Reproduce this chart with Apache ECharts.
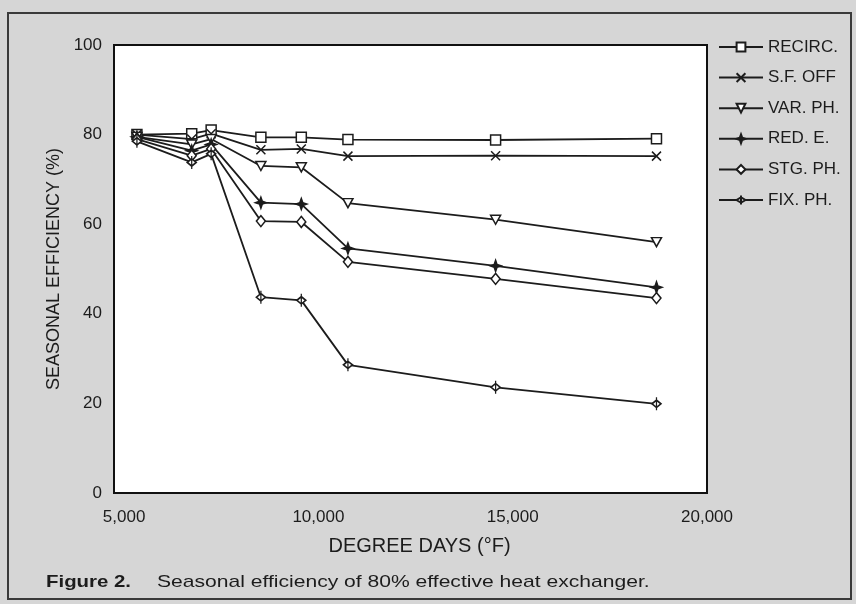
<!DOCTYPE html>
<html><head><meta charset="utf-8">
<script src="https://cdn.jsdelivr.net/npm/echarts@6/dist/echarts.min.js"></script>
<style>html,body{margin:0;padding:0;background:#d6d6d6;}#c{width:856px;height:604px;}</style>
</head><body><div id="c"></div>
<script>
// Data
const degreeDays = [5330, 6740, 7240, 8520, 9560, 10760, 14560, 18700];
const recirc = [80.0, 80.2, 81.0, 79.4, 79.4, 78.9, 78.8, 79.1];
const sfOff  = [80.0, 79.0, 80.2, 76.6, 76.8, 75.2, 75.3, 75.2];
const varPh  = [79.5, 77.8, 79.0, 73.0, 72.7, 64.7, 61.0, 56.0];
const redE   = [79.5, 76.4, 77.8, 64.8, 64.5, 54.6, 50.7, 45.9];
const stgPh  = [79.0, 75.3, 76.8, 60.7, 60.5, 51.6, 47.8, 43.5];
const fixPh  = [78.5, 73.8, 75.7, 43.7, 43.0, 28.6, 23.6, 19.9];
const seriesNames = ['RECIRC.', 'S.F. OFF', 'VAR. PH.', 'RED. E.', 'STG. PH.', 'FIX. PH.'];
const xTickValues = [5000, 10000, 15000, 20000];
const yTickValues = [0, 20, 40, 60, 80, 100];

const FONT = '"Liberation Sans", Arial, Helvetica, sans-serif';
const INK = '#1c1c1c';

const symbols = [
  {symbol: 'rect', size: 10, fill: '#fff'},
  {symbol: 'path://M0,0L10,10M10,0L0,10', size: 9, fill: '#fff'},
  {symbol: 'path://M0,0L10,0L5,9Z', size: [10, 9], fill: '#fff'},
  {symbol: 'path://M5,0L6.3,3.7L10,5L6.3,6.3L5,10L3.7,6.3L0,5L3.7,3.7Z', size: 11, fill: INK},
  {symbol: 'diamond', size: [9, 11], fill: '#fff'},
  {symbol: 'path://M5,0L5,14M5,3L9,7L5,11L1,7Z', size: [9, 13], fill: '#fff'}
];
const allValues = [recirc, sfOff, varPh, redE, stgPh, fixPh];

function pairs(vals) { return degreeDays.map((d, i) => [d, vals[i]]); }
function fmtThousands(v) { return String(v).replace(/\B(?=(\d{3})+(?!\d))/g, ','); }

const series = seriesNames.map((name, k) => ({
  name: name,
  type: 'line',
  data: pairs(allValues[k]),
  symbol: symbols[k].symbol,
  symbolSize: symbols[k].size,
  showAllSymbol: true,
  lineStyle: {color: INK, width: 1.8},
  itemStyle: {color: symbols[k].fill, borderColor: INK, borderWidth: 1.5},
  emphasis: {disabled: true},
  animation: false
}));

const chart = echarts.init(document.getElementById('c'), null, {renderer: 'canvas'});
chart.setOption({
  backgroundColor: '#d6d6d6',
  animation: false,
  textStyle: {fontFamily: FONT, color: INK},
  graphic: [
    {type: 'rect', silent: true, shape: {x: 8, y: 13, width: 843, height: 586},
     style: {fill: null, stroke: '#3a3a3a', lineWidth: 2}},
    {type: 'text', x: 46, y: 574, scaleX: 1.2, silent: true,
     style: {text: 'Figure 2.', font: 'bold 17px ' + FONT, fill: INK}},
    {type: 'text', x: 157, y: 574, scaleX: 1.24, silent: true,
     style: {text: 'Seasonal efficiency of 80% effective heat exchanger.', font: '17px ' + FONT, fill: INK}}
  ],
  grid: {left: 114, right: 149, top: 45, bottom: 111, show: true,
         backgroundColor: '#ffffff', borderColor: '#111', borderWidth: 2, containLabel: false},
  legend: {
    orient: 'vertical', left: 713, top: 33,
    itemWidth: 44, itemHeight: 11, itemGap: 12.6,
    data: seriesNames,
    textStyle: {fontFamily: FONT, fontSize: 17, color: INK, lineHeight: 18},
    selectedMode: false
  },
  xAxis: {
    type: 'value', min: 4740, max: 20000,
    name: 'DEGREE DAYS (°F)', nameLocation: 'middle', nameGap: 43,
    nameTextStyle: {fontFamily: FONT, fontSize: 20, color: INK, padding: [0, 0, 0, 18]},
    axisLine: {show: false}, axisTick: {show: false}, splitLine: {show: false},
    axisLabel: {customValues: xTickValues, formatter: fmtThousands, margin: 16,
                fontFamily: FONT, fontSize: 17, color: INK}
  },
  yAxis: {
    type: 'value', min: 0, max: 100, interval: 20,
    name: 'SEASONAL EFFICIENCY (%)', nameLocation: 'middle', nameGap: 48,
    nameTextStyle: {fontFamily: FONT, fontSize: 18, color: INK},
    axisLine: {show: false}, axisTick: {show: false}, splitLine: {show: false},
    axisLabel: {customValues: yTickValues, margin: 12, fontFamily: FONT, fontSize: 17, color: INK}
  },
  series: series
});
</script></body></html>
